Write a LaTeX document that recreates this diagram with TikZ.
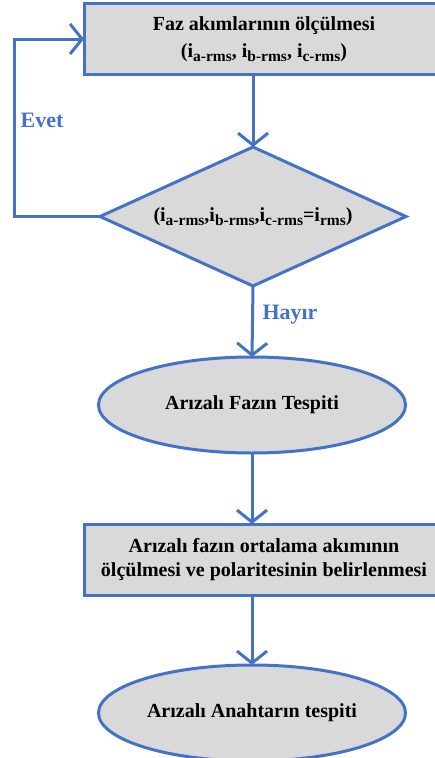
\documentclass[tikz,border=0pt]{standalone}
\usepackage{fontspec}
\setmainfont{Liberation Serif}
\usetikzlibrary{shapes.geometric,arrows.meta}
\definecolor{flowblue}{RGB}{68,114,196}
\definecolor{flowgray}{RGB}{217,217,217}
% lowered, slightly smaller index text
\newcommand{\sbs}[1]{\raisebox{-4pt}{\fontsize{15.5}{16}\selectfont #1}}

\begin{document}
\begin{tikzpicture}[x=1pt,y=-1pt,
  txt/.style={font=\bfseries\fontsize{20}{24}\selectfont, align=center, text=black},
  shapeline/.style={draw=flowblue, line width=3pt, fill=flowgray, inner sep=0pt, outer sep=0pt},
  procbox/.style={shapeline, txt, rectangle, minimum width=360pt, minimum height=71pt},
  decision/.style={shapeline, txt, diamond, aspect=2.2, minimum width=306pt, minimum height=139pt},
  terminal/.style={shapeline, txt, ellipse, minimum width=307pt, minimum height=96pt},
  flow/.style={draw=flowblue, line width=3pt, -{Straight Barb[length=12pt,width=30pt]}},
  answer/.style={font=\bfseries\fontsize{22}{26}\selectfont, text=flowblue}
]
\useasboundingbox (0,0) rectangle (434,758);

% process chain
\node[procbox]  (measure) at (264,39)    {Faz akımlarının ölçülmesi\\[3pt](i\sbs{a-rms}, i\sbs{b-rms}, i\sbs{c-rms})};
\node[decision] (check)   at (253,216.5) {(i\sbs{a-rms},i\sbs{b-rms},i\sbs{c-rms}=i\sbs{rms})};
\node[terminal] (phase)   at (252,405)   {Arızalı Fazın Tespiti};
\node[procbox]  (average) at (264,559.5) {Arızalı fazın ortalama akımının\\ölçülmesi ve polaritesinin belirlenmesi};
\node[terminal] (switch)  at (252,713)   {Arızalı Anahtarın tespiti};

% connectors
\draw[flow] (measure.south -| check.north) -- (check.north);
\draw[flow] (check.south) -- (phase.north);
\draw[flow] (phase.south) -- (average.north -| phase.south);
\draw[flow] (average.south -| switch.north) -- (switch.north);

% "yes" loop back to the measurement
\coordinate (loopcorner) at (14,216.5);
\draw[flow] (check.west) -- (loopcorner) |- (measure.west);

% branch labels
\node[answer] (yes) at (42,120) {Evet};
\node[answer] (no)  at (290,315) {Hayır};
\end{tikzpicture}
\end{document}
